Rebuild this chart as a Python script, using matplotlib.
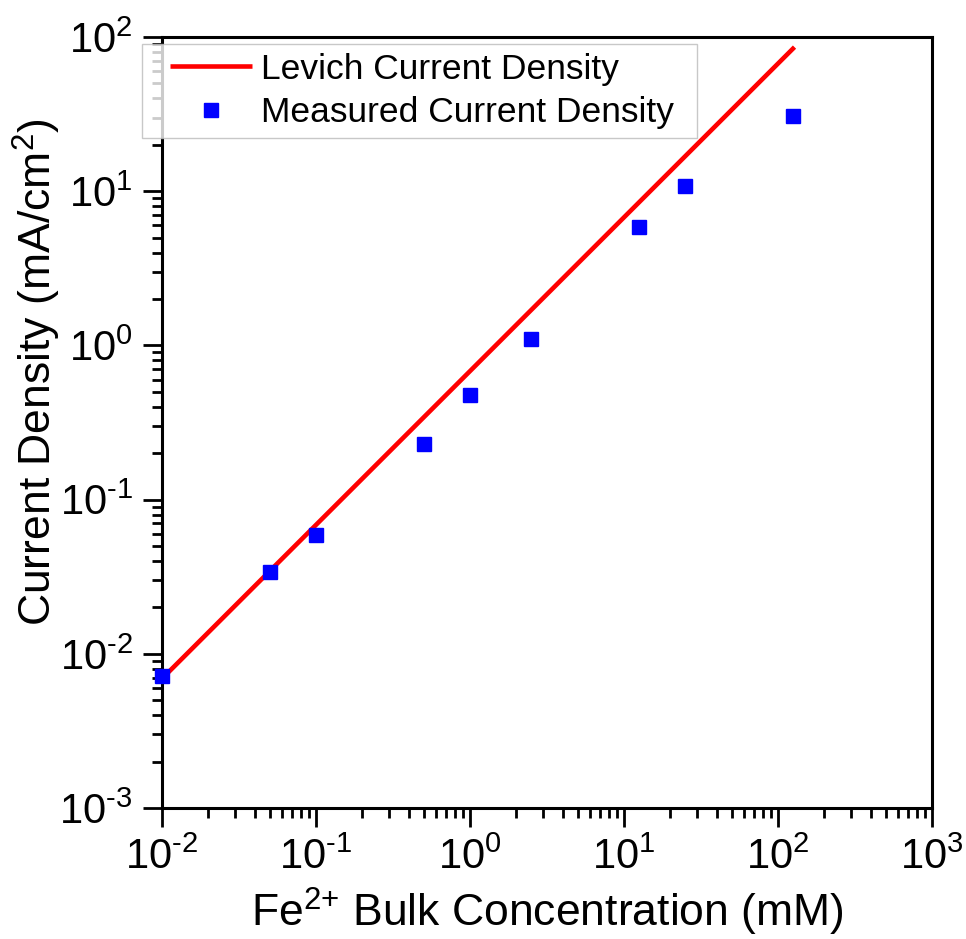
import matplotlib
matplotlib.use("Agg")
import matplotlib.pyplot as plt
from matplotlib.lines import Line2D
from matplotlib.legend_handler import HandlerLine2D
from matplotlib.ticker import FuncFormatter
import numpy as np

plt.rcParams['font.family'] = ['Liberation Sans', 'DejaVu Sans']
plt.rcParams['mathtext.fontset'] = 'custom'
plt.rcParams['mathtext.rm'] = 'Liberation Sans'
plt.rcParams['mathtext.it'] = 'Liberation Sans'

# measured points (mM, mA/cm2)
conc = [0.01, 0.05, 0.1, 0.5, 1.0, 2.5, 12.5, 25, 125]
j_meas = [0.0072, 0.034, 0.059, 0.23, 0.48, 1.10, 5.9, 10.8, 30.7]

# Levich line end points
levich_conc = [0.01, 128]
levich_j = [0.0069, 86]


def pow10(v, pos):
    e = int(round(np.log10(v)))
    return r'$\mathregular{10^{\text{%d}}}$' % e


fig = plt.figure(figsize=(9.66, 9.39), dpi=100)
ax = fig.add_axes([0.1677, 0.1395, 0.7971, 0.8211])

ax.plot(levich_conc, levich_j, color='#ff0000', lw=3.3, label='Levich Current Density',
        solid_capstyle='butt', zorder=2)
ax.plot(conc, j_meas, 's', color='#0000ff', ms=10.5, mec='#0000ff',
        label='Measured Current Density', zorder=3, clip_on=False)

ax.set_xscale('log')
ax.set_yscale('log')
ax.set_xlim(1e-2, 1e3)
ax.set_ylim(1e-3, 1e2)
ax.xaxis.set_major_formatter(FuncFormatter(pow10))
ax.yaxis.set_major_formatter(FuncFormatter(pow10))

for s in ax.spines.values():
    s.set_linewidth(2.2)
ax.tick_params(which='both', direction='out', top=False, right=False, width=2, labelsize=30)
ax.tick_params(which='major', length=14, pad=7)
ax.tick_params(which='minor', length=7)

ax.set_xlabel(r'Fe$^{\text{2+}}$ Bulk Concentration (mM)', fontsize=32, labelpad=6)
ax.set_ylabel('Current Density (mA/cm$^2$)', fontsize=32)
ax.yaxis.set_label_coords(-0.129, 0.565)

# legend box: x 142..697 px, top at 44 px
leg = ax.legend(loc='upper left', bbox_to_anchor=(142 / 966, 1 - 136 / 939, 555 / 966, 92 / 939),
                bbox_transform=fig.transFigure, mode='expand', fontsize=25.5, frameon=True,
                fancybox=False, edgecolor='#bbbbbb', handlelength=2.86, borderaxespad=0,
                borderpad=0.24, labelspacing=0.3, handletextpad=0.25,
                handler_map={Line2D: HandlerLine2D(xpad=0.55)})
leg.get_frame().set_linewidth(1)

fig.savefig('out.png', dpi=100)
